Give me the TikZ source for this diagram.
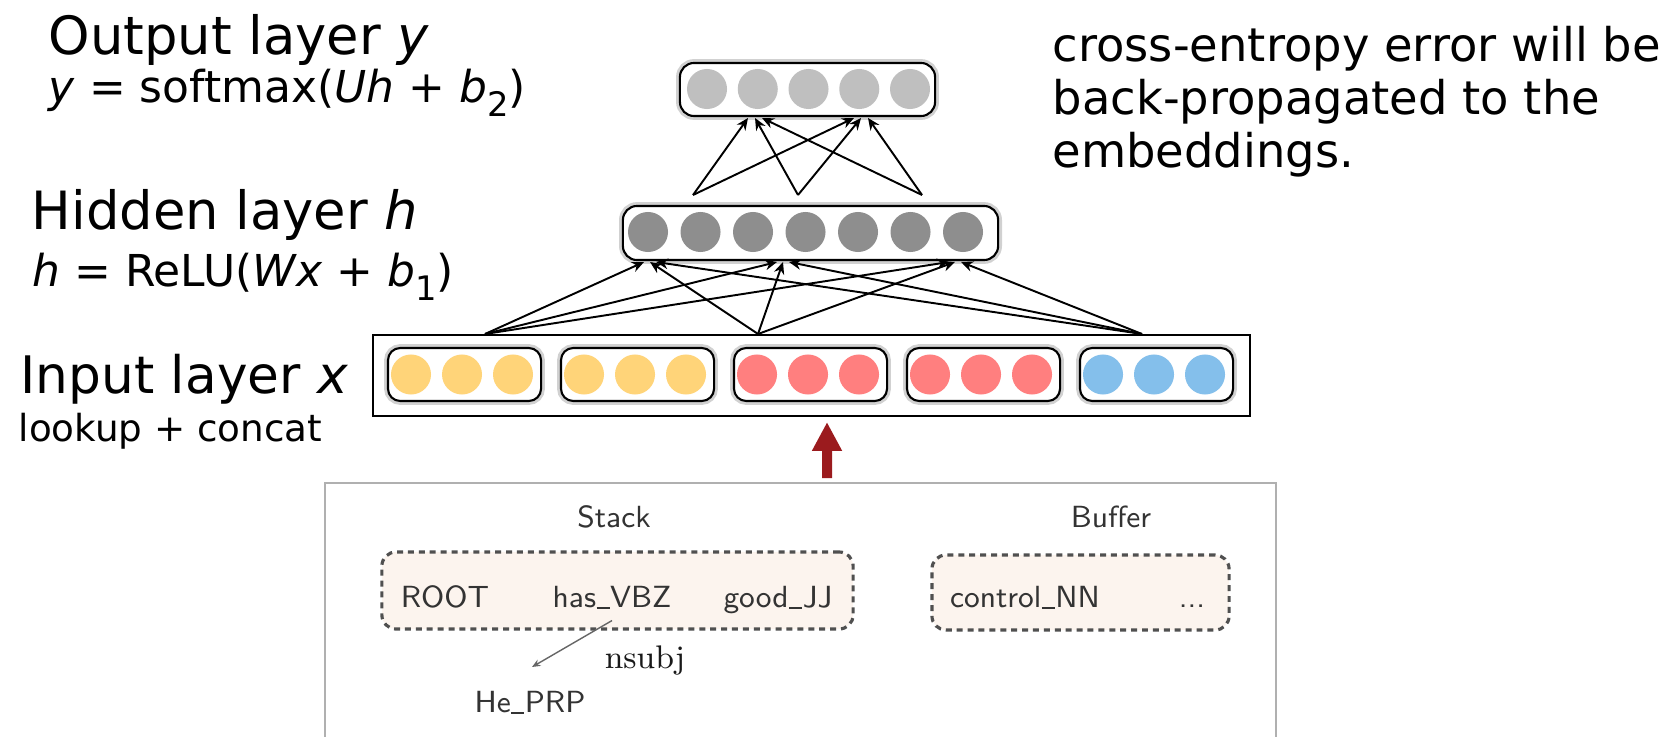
\documentclass[tikz,border=0pt]{standalone}
\usepackage{fontspec}
\newfontfamily\lab{DejaVu Sans}
\usetikzlibrary{arrows.meta}

\definecolor{outgray}{HTML}{BFBFBF}
\definecolor{hidgray}{HTML}{8E8E8E}
\definecolor{wordyel}{HTML}{FFD479}
\definecolor{posred}{HTML}{FF7F7F}
\definecolor{arcblue}{HTML}{84BFEB}
\definecolor{backred}{HTML}{9B1B1E}
\definecolor{cfgfill}{HTML}{FCF4EE}
\definecolor{cfgline}{HTML}{505050}
\definecolor{framegray}{HTML}{B0B0B0}

% lowered subscript in the layer formulas
\newcommand\lowsub[1]{\raisebox{-0.3em}{\fontsize{9.6}{10}\selectfont #1}}
% short low rule used inside token names
\newcommand\tokbar{\kern0.02em\rule[-0.06em]{0.42em}{0.055em}\kern0.02em}

\begin{document}
\begin{tikzpicture}[x=0.01cm, y=-0.01cm,
  unit/.style={circle, inner sep=0pt, minimum size=0.4cm, fill=#1},
  layerbox/.style={rounded corners=4pt, draw=black, line width=0.6pt, fill=white,
    inner sep=0pt, preaction={draw=black!18, line width=2.2pt}},
  groupbox/.style={layerbox, rounded corners=3.5pt, minimum width=1.53cm, minimum height=0.53cm},
  conn/.style={line width=0.55pt, -{Stealth[length=3.4pt, width=3pt]}},
  feed/.style={draw=backred, line width=2.85pt, -{Triangle[length=8.2pt, width=8pt]}},
  big/.style={font=\lab\fontsize{15}{18}\selectfont, inner sep=0pt, anchor=base west},
  formula/.style={font=\lab\fontsize{12.5}{15}\selectfont, inner sep=0pt, anchor=base west},
  note/.style={font=\lab\fontsize{13.2}{16}\selectfont, inner sep=0pt, anchor=base west},
  wordtxt/.style={font=\sffamily\fontsize{8.7}{10}\selectfont, text=black!80, inner sep=0pt, anchor=base},
  cfgbox/.style={draw=cfgline, fill=cfgfill, dash pattern=on 1.7pt off 1.4pt,
    line width=0.9pt, rounded corners=4pt, inner sep=0pt},
  deparc/.style={draw=black!60, line width=0.4pt, -{Stealth[length=2.4pt, width=2pt]}}
]
\useasboundingbox (0,0) rectangle (1674,737);

% ---- left-hand labels ----
\node[big] (lout) at (48,55) {Output layer \textit{y}};
\node[formula] (fout) at (48,103) {\textit{y} = softmax(\textit{Uh} + \textit{b}\lowsub{2})};
\node[big] (lhid) at (31,230) {Hidden layer \textit{h}};
\node[formula] (fhid) at (32,287) {\textit{h} = ReLU(\textit{Wx} + \textit{b}\lowsub{1})};
\node[big, font=\lab\fontsize{14.7}{18}\selectfont] (lin) at (20,393) {Input layer \textit{x}};
\node[formula, font=\lab\fontsize{10.6}{13}\selectfont] (fin) at (18,441) {lookup + concat};

% ---- note on the right ----
\node[note] (n1) at (1052,62) {cross-entropy error will be};
\node[note] (n2) at (1052,115) {back-propagated to the};
\node[note] (n3) at (1052,168) {embeddings.};

% ---- output layer ----
\node[layerbox, minimum width=2.55cm, minimum height=0.53cm] (outbox) at (807.5,89.5) {};
\foreach \i in {0,...,4}
  \node[unit=outgray] (o\i) at ({707+50.75*\i},89) {};

% ---- hidden layer ----
\node[layerbox, minimum width=3.75cm, minimum height=0.54cm] (hidbox) at (810.5,233) {};
\foreach \i in {0,...,6}
  \node[unit=hidgray] (h\i) at ({648+52.5*\i},232) {};

% ---- input layer: five embedding groups ----
\node[draw, line width=0.6pt, minimum width=8.77cm, minimum height=0.81cm, inner sep=0pt]
  (inbox) at (811.5,375.5) {};
\foreach \g/\c in {0/wordyel, 1/wordyel, 2/posred, 3/posred, 4/arcblue} {
  \node[groupbox] (g\g) at ({464.5+173*\g},374.5) {};
  \foreach \k in {0,1,2}
    \node[unit=\c] (x\g\k) at ({411+173*\g+51*\k},374.5) {};
}

% ---- connections input -> hidden ----
\coordinate (is1) at (485,334);
\coordinate (is2) at (758,334);
\coordinate (is3) at (1142,334);
\coordinate (tc) at (650,262);
\coordinate (td) at (783,262);
\coordinate (te) at (955,262);
\foreach \s/\d in {is1/-0.06cm, is2/0cm, is3/0.06cm}
  \foreach \t in {tc,td,te}
    \draw[conn] (\s) -- ([xshift=\d]\t);

% ---- connections hidden -> output ----
\coordinate (hs1) at (693,195);
\coordinate (hs2) at (798,195);
\coordinate (hs3) at (922,195);
\coordinate (ta) at (755,118);
\coordinate (tb) at (861,118);
\foreach \s/\d in {hs1/-0.07cm, hs2/0cm, hs3/0.07cm}
  \foreach \t in {ta,tb}
    \draw[conn] (\s) -- ([xshift=\d]\t);

% ---- feature extraction arrow ----
\coordinate (feedtail) at (827,478);
\draw[feed] (feedtail) -- ([xshift=0.155cm, yshift=-0.05cm]inbox.south);

% ---- parser configuration ----
\draw[framegray, line width=0.7pt] (325,760) -- (325,483) -- (1276,483) -- (1276,760);
\node[wordtxt] (stlab) at (614,527) {Stack};
\node[wordtxt] (bflab) at (1111,527) {Buffer};
\node[cfgbox, minimum width=4.71cm, minimum height=0.77cm] (stack) at (617.5,590.5) {};
\node[cfgbox, minimum width=2.97cm, minimum height=0.75cm] (buffer) at (1080.5,592.5) {};
\node[wordtxt] (root) at (445,607) {ROOT};
\node[wordtxt] (has) at (612,607) {has\tokbar VBZ};
\node[wordtxt] (good) at (778,607) {good\tokbar JJ};
\node[wordtxt] (ctrl) at (1025,607) {control\tokbar NN};
\node[wordtxt] (dots) at (1192,607) {...};
\node[wordtxt] (he) at (530,712) {He\tokbar PRP};
\node[wordtxt, text=black!90, font=\rmfamily\fontsize{9.3}{11}\selectfont] (rel) at (645,668) {nsubj};
\coordinate (arctip) at (532,667);
\draw[deparc] ([yshift=-0.11cm]has.south) -- (arctip);
\end{tikzpicture}
\end{document}
